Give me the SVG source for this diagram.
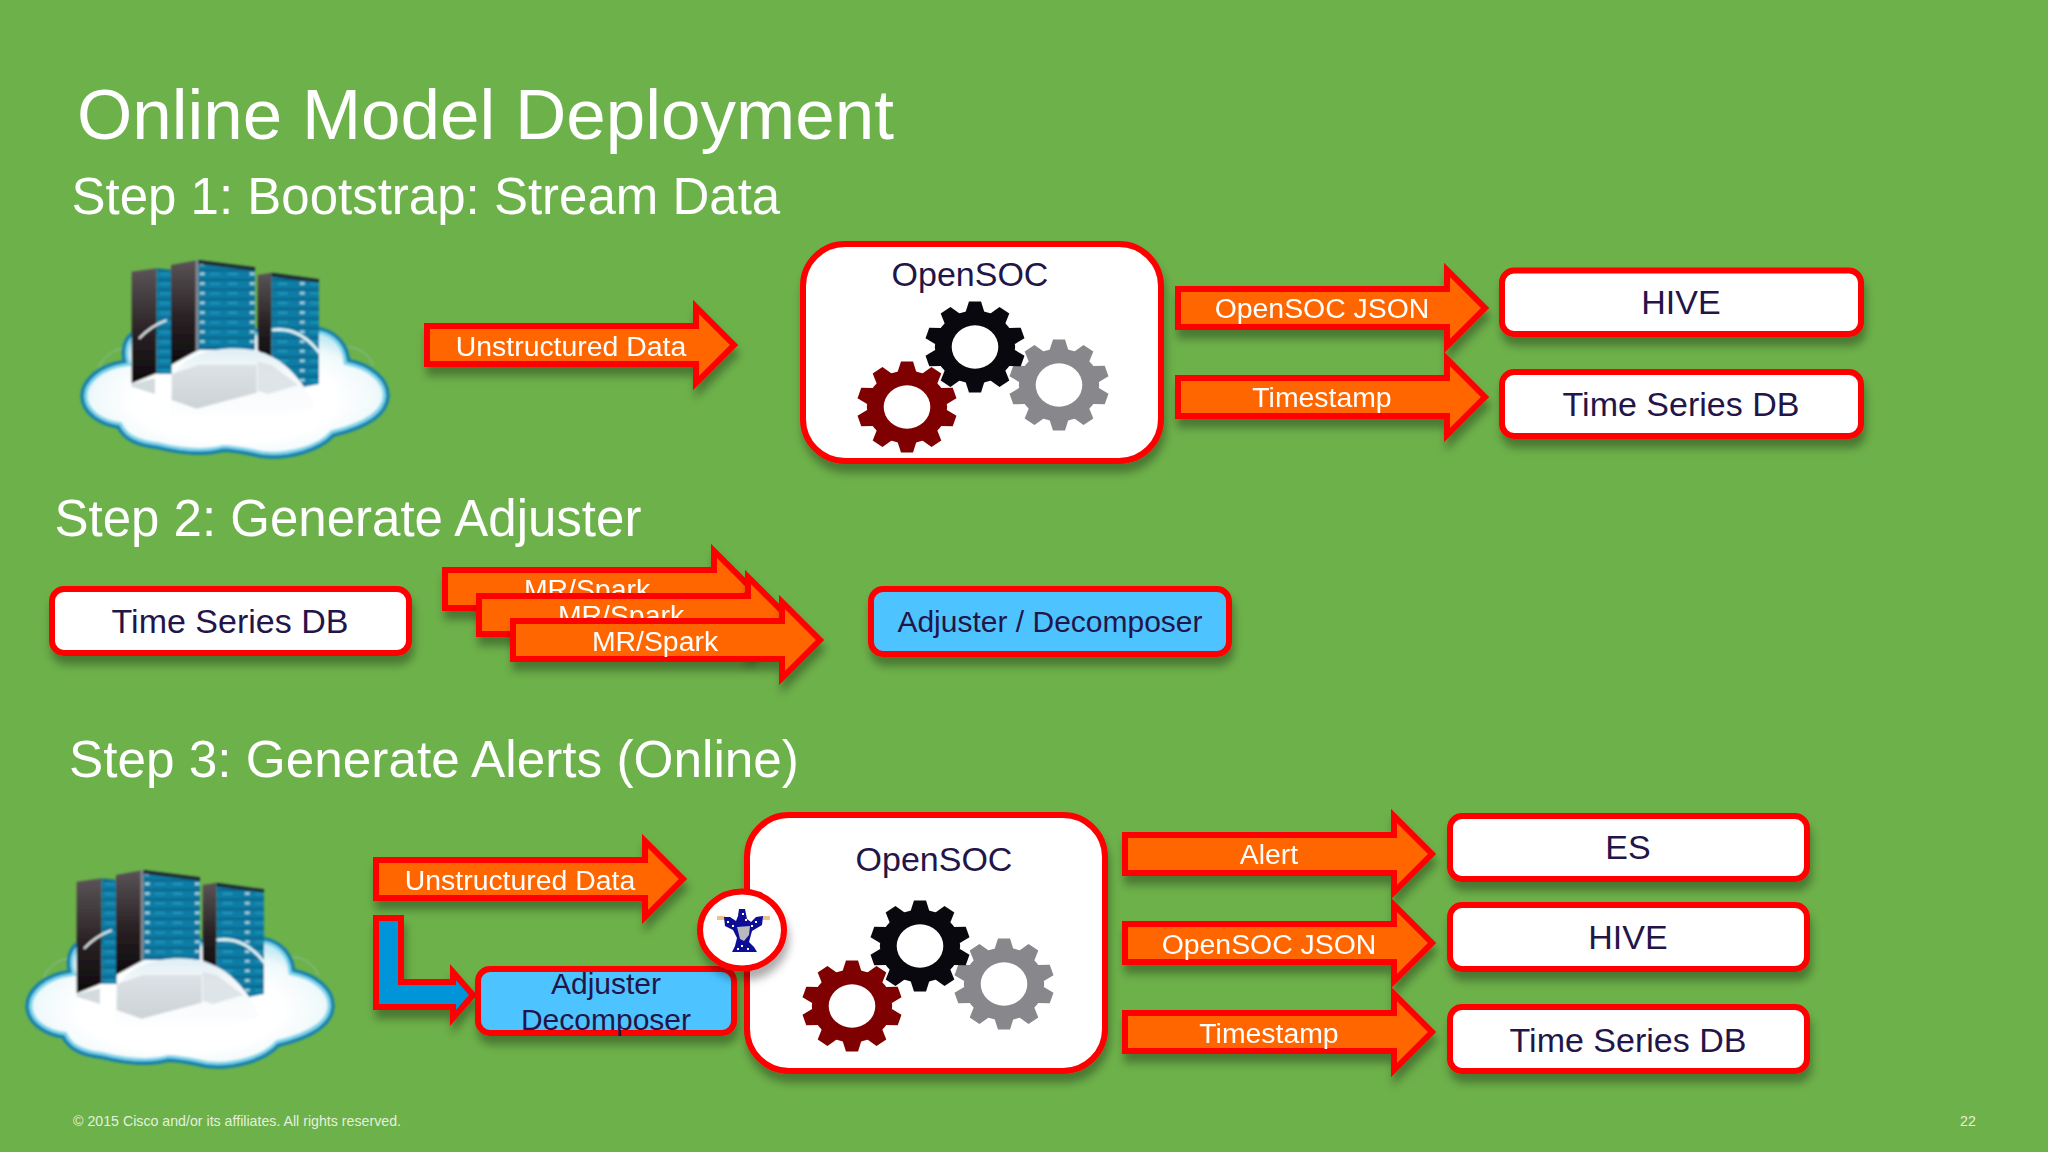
<svg xmlns="http://www.w3.org/2000/svg" width="2048" height="1152" viewBox="0 0 2048 1152">
<style>
text{font-family:"Liberation Sans",Arial,sans-serif}
.h1{fill:#fff;font-size:71px}
.h2{fill:#fff;font-size:51px}
.n{fill:#231548;font-size:34px;text-anchor:middle}
.d{fill:#231548;font-size:30px;text-anchor:middle}
.a{fill:#fff;font-size:28.400px;text-anchor:middle}
.f{fill:#e4f0dc;font-size:14.200px}
.box{fill:#fff;stroke:#f00;stroke-width:6}
.blue{fill:#4dc4ff;stroke:#f00;stroke-width:6}
.arr{fill:#f60;stroke:#f00;stroke-width:6;stroke-linejoin:miter}
.sh{filter:url(#shadow)}
</style>
<defs>
<filter id="shadow" x="-15%" y="-30%" width="130%" height="170%"><feDropShadow dx="2" dy="9" stdDeviation="4" flood-color="#000" flood-opacity=".32"/></filter>
<filter id="soft" x="-5%" y="-5%" width="110%" height="110%"><feGaussianBlur stdDeviation="2.600"/></filter>
<filter id="px" x="-5%" y="-5%" width="110%" height="110%"><feGaussianBlur stdDeviation=".35"/></filter>
<polygon id="arrow" points="3,-19 272,-19 272,-38 310,0 272,38 272,19 3,19"/>
<polygon id="tooth" points="-8.500,-35 -5.500,-45.500 5.500,-45.500 8.500,-35"/>
<g id="gear">
<circle r="36.500"/>
<use href="#tooth"/><use href="#tooth" transform="rotate(36)"/><use href="#tooth" transform="rotate(72)"/><use href="#tooth" transform="rotate(108)"/><use href="#tooth" transform="rotate(144)"/><use href="#tooth" transform="rotate(180)"/><use href="#tooth" transform="rotate(216)"/><use href="#tooth" transform="rotate(252)"/><use href="#tooth" transform="rotate(288)"/><use href="#tooth" transform="rotate(324)"/>
<ellipse rx="21.200" ry="21.700" fill="#fff"/>
</g>
<g id="gears">
<use href="#gear" fill="#7f0000" transform="translate(-68,60) scale(1.1,1)"/>
<use href="#gear" fill="#88888c" transform="translate(84,38) scale(1.1,1)"/>
<use href="#gear" fill="#08080e" transform="scale(1.1,1)"/>
</g>
<path id="cloud-shape" d="M22,440C22,390 75,345 150,335C140,300 150,265 175,250L740,238C785,250 815,285 820,332C885,345 940,385 938,440C935,490 880,530 775,555C735,600 640,628 560,618C520,610 480,600 445,600C400,612 330,612 250,592C190,585 150,570 130,530C75,522 25,490 22,440Z"/>
<clipPath id="cloud-clip"><use href="#cloud-shape"/></clipPath>
<radialGradient id="cl" cx=".5" cy=".55" r=".55"><stop offset=".6" stop-color="#fff"/><stop offset=".85" stop-color="#f0f9fb"/><stop offset="1" stop-color="#c8ecf5"/></radialGradient>
<linearGradient id="side" x1="0" y1="0" x2="0" y2="1"><stop offset="0" stop-color="#5a5458"/><stop offset=".55" stop-color="#2a2224"/><stop offset="1" stop-color="#0c0a0c"/></linearGradient>
<linearGradient id="dome" x1="0" y1="0" x2="0" y2="1"><stop offset="0" stop-color="#dfeef5"/><stop offset=".3" stop-color="#f4f8fa"/><stop offset="1" stop-color="#fff"/></linearGradient>
<linearGradient id="refl" x1="0" y1="0" x2="0" y2="1"><stop offset="0" stop-color="#d8dee2"/><stop offset="1" stop-color="#c4cccf"/></linearGradient>
<pattern id="rack" width="150" height="29" patternUnits="userSpaceOnUse">
<rect width="150" height="29" fill="#0f7da6"/><rect y="0" width="150" height="5" fill="#0a5f84"/><rect x="8" y="12" width="30" height="4" fill="#2ea6c6"/><rect x="75" y="10" width="14" height="7" fill="#b8dfe8"/><rect x="105" y="13" width="30" height="3" fill="#2ea6c6"/>
</pattern>
<g id="cloud-art" filter="url(#soft)">
<path d="M70,350C95,310 125,295 150,295M820,290C860,295 885,320 895,345" fill="none" stroke="#8fc0b0" stroke-width="3"/>
<use href="#cloud-shape" fill="url(#cl)" stroke="#1682ae" stroke-width="12"/>
<use href="#cloud-shape" fill="none" stroke="#7fd6ec" stroke-width="30" clip-path="url(#cloud-clip)"/>
<use href="#cloud-shape" fill="none" stroke="#1682ae" stroke-width="10"/>
<polygon points="170,65 245,55 245,370 170,400" fill="url(#side)"/>
<polygon points="245,55 290,60 290,372 245,372" fill="url(#rack)"/>
<polygon points="288,45 370,30 370,300 288,345" fill="url(#side)"/>
<polygon points="362,30 372,30 372,300 362,305" fill="#8a8a90"/>
<polygon points="370,32 540,55 540,300 370,300" fill="url(#rack)"/>
<polygon points="370,30 540,52 540,62 370,42" fill="#1a2a34"/>
<polygon points="548,75 590,68 590,340 548,300" fill="url(#side)"/>
<polygon points="590,70 732,90 732,402 680,412 590,340" fill="url(#rack)"/>
<polygon points="590,68 732,88 732,98 590,80" fill="#1a2a34"/>
<path d="M296,372C330,315 430,285 520,298C600,310 650,355 690,415L720,470L560,520L280,500Z" fill="url(#dome)"/>
<polygon points="170,402 240,385 240,432 170,410" fill="#d3dbde"/>
<polygon points="290,372 370,345 545,345 545,428 365,476 290,450" fill="url(#refl)" opacity=".85"/>
<polygon points="548,335 590,345 670,405 580,432 548,422" fill="#d9e1e4" opacity=".85"/>
<path d="M590,240C640,232 690,250 735,310" fill="none" stroke="#dff4f8" stroke-width="9"/>
<path d="M192,266C215,240 245,222 275,210" fill="none" stroke="#e8eef0" stroke-width="6"/>
</g>
</defs>

<rect id="background" width="2048" height="1152" fill="#6db14a"/>

<text class="h1" x="77" y="139">Online Model Deployment</text>
<text class="h2" x="71.500" y="214">Step 1: Bootstrap: Stream Data</text>
<text class="h2" x="54.500" y="536">Step 2: Generate Adjuster</text>
<text class="h2" x="69" y="777" style="font-size:51.300px">Step 3: Generate Alerts (Online)</text>

<g id="connectors">
<g class="sh"><use href="#arrow" class="arr" x="424" y="345"/><text class="a" x="571" y="356">Unstructured Data</text></g>
<g class="sh"><use href="#arrow" class="arr" x="1175" y="308"/><text class="a" x="1322" y="318">OpenSOC JSON</text></g>
<g class="sh"><use href="#arrow" class="arr" x="1175" y="397"/><text class="a" x="1322" y="407">Timestamp</text></g>
<g class="sh"><use href="#arrow" class="arr" x="442" y="589"/><text class="a" x="587" y="599">MR/Spark</text></g>
<g class="sh"><use href="#arrow" class="arr" x="476" y="615"/><text class="a" x="621" y="625">MR/Spark</text></g>
<g class="sh"><use href="#arrow" class="arr" x="510" y="640"/><text class="a" x="655" y="651">MR/Spark</text></g>
<g class="sh"><use href="#arrow" class="arr" x="373" y="879"/><text class="a" x="520" y="890">Unstructured Data</text></g>
<polygon id="bent-arrow" class="sh" points="376,918 401,918 401,982 453,982 453,972 473,995 453,1018 453,1007 376,1007" fill="#0095d9" stroke="#f00" stroke-width="6"/>
<g class="sh"><use href="#arrow" class="arr" x="1122" y="854"/><text class="a" x="1269" y="864">Alert</text></g>
<g class="sh"><use href="#arrow" class="arr" x="1122" y="943"/><text class="a" x="1269" y="954">OpenSOC JSON</text></g>
<g class="sh"><use href="#arrow" class="arr" x="1122" y="1032"/><text class="a" x="1269" y="1043">Timestamp</text></g>
</g>

<g id="cloud-1"><use href="#cloud-art" transform="translate(75,250) scale(.3333)"/></g>
<g id="cloud-2"><use href="#cloud-art" transform="translate(20,860) scale(.3333)"/></g>

<g id="opensoc-1"><rect class="box sh" x="803" y="244" width="358" height="217" rx="42"/><text class="n" x="970" y="286">OpenSOC</text><use href="#gears" transform="translate(975,347)"/></g>
<g id="hive-1"><rect class="box sh" x="1502" y="270.500" width="359" height="63.500" rx="12"/><text class="n" x="1681" y="314">HIVE</text></g>
<g id="tsdb-1"><rect class="box sh" x="1502" y="372" width="359" height="64" rx="12"/><text class="n" x="1681" y="416">Time Series DB</text></g>
<g id="tsdb-2"><rect class="box sh" x="52" y="589" width="357" height="64" rx="12"/><text class="n" x="230" y="633">Time Series DB</text></g>
<g id="adjuster-2"><rect class="blue sh" x="871" y="589" width="358" height="65" rx="12"/><text class="d" x="1050" y="632">Adjuster / Decomposer</text></g>
<g id="opensoc-3"><rect class="box sh" x="747" y="815" width="358" height="256" rx="42"/><text class="n" x="934" y="871">OpenSOC</text><use href="#gears" transform="translate(920,946)"/></g>
<g id="adjuster-3"><rect class="blue sh" x="478" y="969" width="256" height="64" rx="12"/><text class="d" x="606" y="994">Adjuster</text><text class="d" x="606" y="1030">Decomposer</text></g>
<g id="wizard"><ellipse class="box sh" cx="742" cy="930" rx="42" ry="38.500"/>
<g filter="url(#px)">
<rect x="717" y="916" width="8" height="4" fill="#e8c48a"/><rect x="762" y="916" width="8" height="4" fill="#e8c48a"/>
<polygon points="739,909 745,909 747,919 751,922 756,917 763,916 762,925 752,931 749,942 754,947 757,952 732,952 735,946 737,938 733,930 725,926 724,917 730,917 736,921 738,916" fill="#0a0a96"/>
<polygon points="737,927 750,926 749,935 744,941 740,939" fill="#b9b9bd"/>
<path d="M742,913h2v2h-2zM727,921h2v2h-2zM732,925h2v2h-2zM755,921h2v2h-2zM751,925h2v2h-2zM741,945h2v2h-2zM737,948h2v2h-2zM747,948h2v2h-2zM745,919h2v2h-2z" fill="#fff"/>
</g></g>
<g id="es-3"><rect class="box sh" x="1450" y="816" width="357" height="63" rx="12"/><text class="n" x="1628" y="859">ES</text></g>
<g id="hive-3"><rect class="box sh" x="1450" y="905" width="357" height="64" rx="12"/><text class="n" x="1628" y="949">HIVE</text></g>
<g id="tsdb-3"><rect class="box sh" x="1450" y="1007" width="357" height="64" rx="12"/><text class="n" x="1628" y="1052">Time Series DB</text></g>

<text class="f" x="73" y="1126">© 2015 Cisco and/or its affiliates. All rights reserved.</text>
<text class="f" x="1960" y="1126">22</text>
</svg>
